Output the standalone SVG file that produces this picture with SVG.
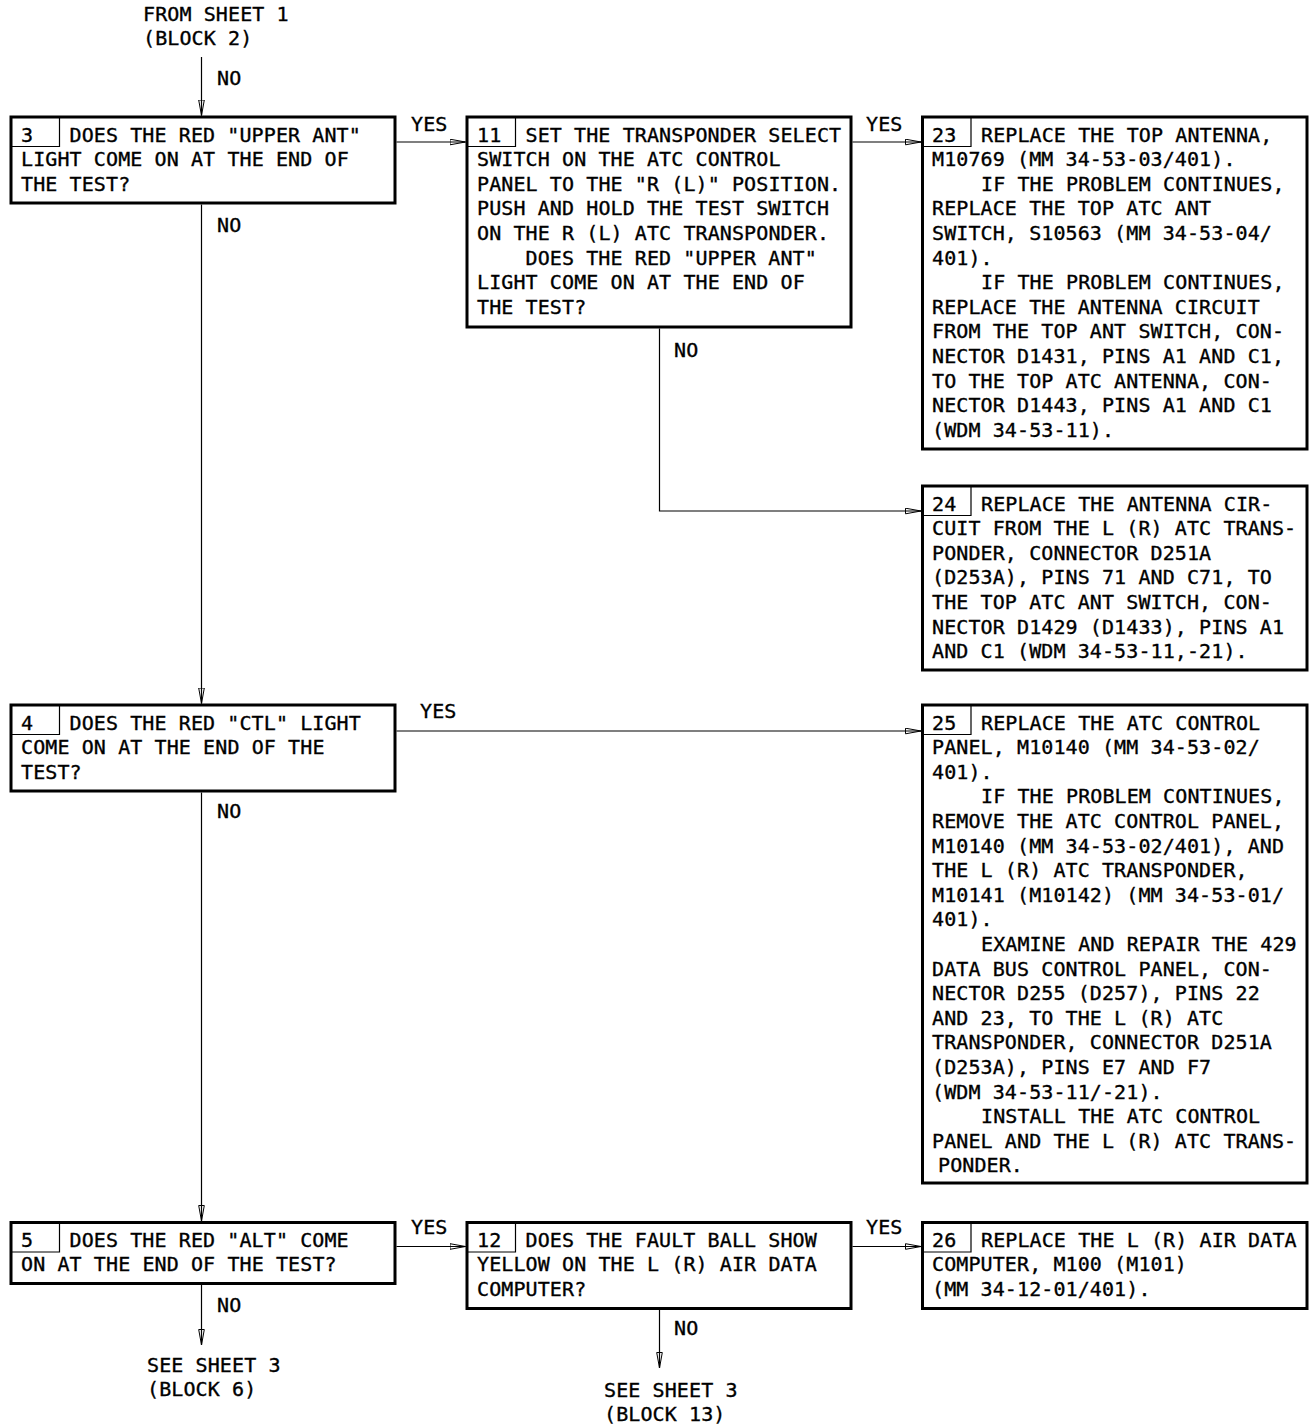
<svg xmlns="http://www.w3.org/2000/svg" width="1313" height="1424" viewBox="0 0 1313 1424">
<style>
.box{fill:#fff;stroke:#000;stroke-width:3}
.num{fill:none;stroke:#000;stroke-width:1.2}
.t{font-family:"DejaVu Sans Mono","Liberation Mono",monospace;font-size:20px;letter-spacing:0.1px;fill:#000;stroke:#000;stroke-width:0.35px}
.c{fill:none;stroke:#000;stroke-width:1.2;marker-end:url(#ah)}
</style>
<defs>
<marker id="ah" viewBox="0 0 16 7" refX="16" refY="3.5" markerWidth="16" markerHeight="7" markerUnits="userSpaceOnUse" orient="auto">
<path d="M0.5,0.7 L16,3.5 L0.5,6.3 Z" fill="none" stroke="#000" stroke-width="1"/>
</marker>
</defs>
<rect width="1313" height="1424" fill="#fff"/>

<g id="connectors">
<path class="c" d="M201.5,57 V115.5"/>
<path class="c" d="M396.5,142 H465.5"/>
<path class="c" d="M852.5,142 H921"/>
<path class="c" d="M201.5,204.5 V703.5"/>
<path class="c" d="M659.5,328.5 V511 H921"/>
<path class="c" d="M396.5,731 H921"/>
<path class="c" d="M201.5,792.5 V1221"/>
<path class="c" d="M396.5,1246.5 H465.5"/>
<path class="c" d="M852.5,1246.5 H921"/>
<path class="c" d="M201.5,1285 V1345"/>
<path class="c" d="M659.5,1310 V1368"/>
<text class="t" x="217" y="85">NO</text>
<text class="t" x="411" y="131">YES</text>
<text class="t" x="866" y="131">YES</text>
<text class="t" x="217" y="232">NO</text>
<text class="t" x="674" y="357">NO</text>
<text class="t" x="420" y="718">YES</text>
<text class="t" x="217" y="818">NO</text>
<text class="t" x="411" y="1234">YES</text>
<text class="t" x="866" y="1234">YES</text>
<text class="t" x="217" y="1312">NO</text>
<text class="t" x="674" y="1335">NO</text>
</g>

<g id="from-sheet-1">
<text class="t" x="143" y="21">FROM SHEET 1</text>
<text class="t" x="143" y="45">(BLOCK 2)</text>
</g>

<g id="node-3">
<rect class="box" x="11" y="117" width="384" height="86"/>
<path class="num" d="M59.5,117 V146.5 H11"/>
<text class="t" x="21" y="141.5">3</text>
<text class="t" x="69.5" y="141.5">DOES THE RED "UPPER ANT"</text>
<text class="t" x="21" y="166.1">LIGHT COME ON AT THE END OF</text>
<text class="t" x="21" y="190.7">THE TEST?</text>
</g>

<g id="node-11">
<rect class="box" x="467" y="117" width="384" height="210"/>
<path class="num" d="M515.5,117 V146.5 H467"/>
<text class="t" x="477" y="141.5">11</text>
<text class="t" x="525.5" y="141.5">SET THE TRANSPONDER SELECT</text>
<text class="t" x="477" y="166.1">SWITCH ON THE ATC CONTROL</text>
<text class="t" x="477" y="190.7">PANEL TO THE "R (L)" POSITION.</text>
<text class="t" x="477" y="215.3">PUSH AND HOLD THE TEST SWITCH</text>
<text class="t" x="477" y="239.9">ON THE R (L) ATC TRANSPONDER.</text>
<text class="t" x="525.5" y="264.5">DOES THE RED "UPPER ANT"</text>
<text class="t" x="477" y="289.1">LIGHT COME ON AT THE END OF</text>
<text class="t" x="477" y="313.7">THE TEST?</text>
</g>

<g id="node-23">
<rect class="box" x="922.5" y="117" width="384.5" height="332"/>
<path class="num" d="M971,117 V146.5 H922.5"/>
<text class="t" x="932" y="141.5">23</text>
<text class="t" x="981" y="141.5">REPLACE THE TOP ANTENNA,</text>
<text class="t" x="932" y="166.1">M10769 (MM 34-53-03/401).</text>
<text class="t" x="981" y="190.7">IF THE PROBLEM CONTINUES,</text>
<text class="t" x="932" y="215.3">REPLACE THE TOP ATC ANT</text>
<text class="t" x="932" y="239.9">SWITCH, S10563 (MM 34-53-04/</text>
<text class="t" x="932" y="264.5">401).</text>
<text class="t" x="981" y="289.1">IF THE PROBLEM CONTINUES,</text>
<text class="t" x="932" y="313.7">REPLACE THE ANTENNA CIRCUIT</text>
<text class="t" x="932" y="338.3">FROM THE TOP ANT SWITCH, CON-</text>
<text class="t" x="932" y="362.9">NECTOR D1431, PINS A1 AND C1,</text>
<text class="t" x="932" y="387.5">TO THE TOP ATC ANTENNA, CON-</text>
<text class="t" x="932" y="412.1">NECTOR D1443, PINS A1 AND C1</text>
<text class="t" x="932" y="436.7">(WDM 34-53-11).</text>
</g>

<g id="node-24">
<rect class="box" x="922.5" y="486" width="384.5" height="184"/>
<path class="num" d="M971,486 V515.5 H922.5"/>
<text class="t" x="932" y="510.5">24</text>
<text class="t" x="981" y="510.5">REPLACE THE ANTENNA CIR-</text>
<text class="t" x="932" y="535.1">CUIT FROM THE L (R) ATC TRANS-</text>
<text class="t" x="932" y="559.7">PONDER, CONNECTOR D251A</text>
<text class="t" x="932" y="584.3">(D253A), PINS 71 AND C71, TO</text>
<text class="t" x="932" y="608.9">THE TOP ATC ANT SWITCH, CON-</text>
<text class="t" x="932" y="633.5">NECTOR D1429 (D1433), PINS A1</text>
<text class="t" x="932" y="658.1">AND C1 (WDM 34-53-11,-21).</text>
</g>

<g id="node-4">
<rect class="box" x="11" y="705" width="384" height="86"/>
<path class="num" d="M59.5,705 V734.5 H11"/>
<text class="t" x="21" y="729.5">4</text>
<text class="t" x="69.5" y="729.5">DOES THE RED "CTL" LIGHT</text>
<text class="t" x="21" y="754.1">COME ON AT THE END OF THE</text>
<text class="t" x="21" y="778.7">TEST?</text>
</g>

<g id="node-25">
<rect class="box" x="922.5" y="705" width="384.5" height="478"/>
<path class="num" d="M971,705 V734.5 H922.5"/>
<text class="t" x="932" y="729.5">25</text>
<text class="t" x="981" y="729.5">REPLACE THE ATC CONTROL</text>
<text class="t" x="932" y="754.1">PANEL, M10140 (MM 34-53-02/</text>
<text class="t" x="932" y="778.7">401).</text>
<text class="t" x="981" y="803.3">IF THE PROBLEM CONTINUES,</text>
<text class="t" x="932" y="827.9">REMOVE THE ATC CONTROL PANEL,</text>
<text class="t" x="932" y="852.5">M10140 (MM 34-53-02/401), AND</text>
<text class="t" x="932" y="877.1">THE L (R) ATC TRANSPONDER,</text>
<text class="t" x="932" y="901.7">M10141 (M10142) (MM 34-53-01/</text>
<text class="t" x="932" y="926.3">401).</text>
<text class="t" x="981" y="950.9">EXAMINE AND REPAIR THE 429</text>
<text class="t" x="932" y="975.5">DATA BUS CONTROL PANEL, CON-</text>
<text class="t" x="932" y="1000.1">NECTOR D255 (D257), PINS 22</text>
<text class="t" x="932" y="1024.7">AND 23, TO THE L (R) ATC</text>
<text class="t" x="932" y="1049.3">TRANSPONDER, CONNECTOR D251A</text>
<text class="t" x="932" y="1073.9">(D253A), PINS E7 AND F7</text>
<text class="t" x="932" y="1098.5">(WDM 34-53-11/-21).</text>
<text class="t" x="981" y="1123.1">INSTALL THE ATC CONTROL</text>
<text class="t" x="932" y="1147.7">PANEL AND THE L (R) ATC TRANS-</text>
<text class="t" x="938" y="1172.3">PONDER.</text>
</g>

<g id="node-5">
<rect class="box" x="11" y="1222.5" width="384" height="61"/>
<path class="num" d="M59.5,1222.5 V1252 H11"/>
<text class="t" x="21" y="1246.5">5</text>
<text class="t" x="69.5" y="1246.5">DOES THE RED "ALT" COME</text>
<text class="t" x="21" y="1271.1">ON AT THE END OF THE TEST?</text>
</g>

<g id="node-12">
<rect class="box" x="467" y="1222.5" width="384" height="86"/>
<path class="num" d="M515.5,1222.5 V1252 H467"/>
<text class="t" x="477" y="1246.5">12</text>
<text class="t" x="525.5" y="1246.5">DOES THE FAULT BALL SHOW</text>
<text class="t" x="477" y="1271.1">YELLOW ON THE L (R) AIR DATA</text>
<text class="t" x="477" y="1295.7">COMPUTER?</text>
</g>

<g id="node-26">
<rect class="box" x="922.5" y="1222.5" width="384.5" height="86"/>
<path class="num" d="M971,1222.5 V1252 H922.5"/>
<text class="t" x="932" y="1246.5">26</text>
<text class="t" x="981" y="1246.5">REPLACE THE L (R) AIR DATA</text>
<text class="t" x="932" y="1271.1">COMPUTER, M100 (M101)</text>
<text class="t" x="932" y="1295.7">(MM 34-12-01/401).</text>
</g>

<g id="see-sheet-3-block-6">
<text class="t" x="147" y="1372">SEE SHEET 3</text>
<text class="t" x="147" y="1396">(BLOCK 6)</text>
</g>

<g id="see-sheet-3-block-13">
<text class="t" x="604" y="1397">SEE SHEET 3</text>
<text class="t" x="604" y="1421">(BLOCK 13)</text>
</g>
</svg>
